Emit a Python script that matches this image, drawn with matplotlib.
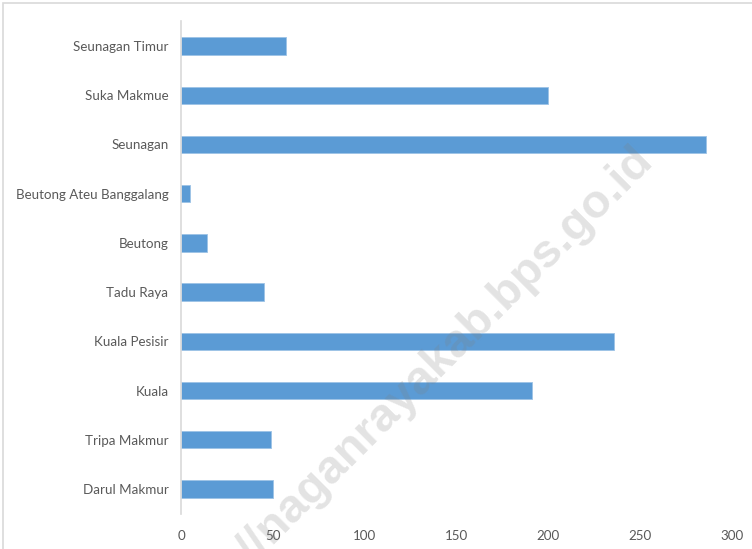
import matplotlib
matplotlib.use("Agg")
import matplotlib.pyplot as plt
from matplotlib.patches import Rectangle

# data (bottom to top as in the chart)
kecamatan = ["Darul Makmur", "Tripa Makmur", "Kuala", "Kuala Pesisir", "Tadu Raya",
             "Beutong", "Beutong Ateu Banggalang", "Seunagan", "Suka Makmue", "Seunagan Timur"]
nilai = [50, 49, 191, 236, 45, 14, 5, 286, 200, 57]
xticks = [0, 50, 100, 150, 200, 250, 300]

plt.rcParams['font.family'] = ['Lato', 'DejaVu Sans']

fig = plt.figure(figsize=(7.52, 5.49), dpi=100, facecolor='white')
ax = fig.add_axes([181/752, 1 - 513.6/549, (732-181)/752, (513.6-21.4)/549])

ax.barh(range(len(kecamatan)), nilai, height=0.35, color='#5b9bd5',
        edgecolor='#9dc3e6', linewidth=0.6)

ax.set_xlim(0, 300)
ax.set_ylim(-0.5, len(kecamatan) - 0.5)
ax.set_xticks(xticks)
ax.set_yticks(range(len(kecamatan)))
ax.set_yticklabels(kecamatan)
ax.tick_params(axis='both', length=0, labelsize=9.6, colors='#595959')
ax.tick_params(axis='y', pad=9)
ax.tick_params(axis='x', pad=12)

for s in ['top', 'right', 'bottom']:
    ax.spines[s].set_visible(False)
ax.spines['left'].set_color('#d9d9d9')
ax.spines['left'].set_linewidth(1.2)

# border around the chart
fig.patches.append(Rectangle((3/752, -0.01), 1.02, 1 - 3/549 + 0.01,
                             transform=fig.transFigure, fill=False,
                             edgecolor='#d9d9d9', linewidth=1.2))

# watermark
fig.text(399/752, 1 - 400/549, "https://naganrayakab.bps.go.id", rotation=45,
         ha='center', va='center', fontsize=34, fontweight='bold',
         color='gray', alpha=0.22, family='Liberation Sans', zorder=10)

fig.savefig("out.png", dpi=100)
